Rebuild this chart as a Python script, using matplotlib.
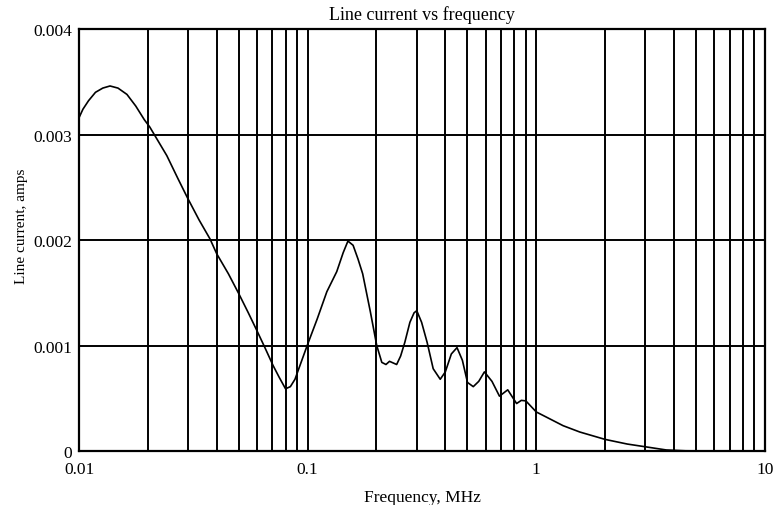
import numpy as np
import matplotlib.pyplot as plt
from matplotlib.ticker import LogLocator, FixedLocator, NullFormatter

plt.rcParams['font.family'] = ['Liberation Serif', 'DejaVu Serif']

# values
freq_mhz = [0.01, 0.0104, 0.011, 0.0118, 0.0127, 0.01366, 0.0148, 0.0162, 0.0177,
            0.0193, 0.0204, 0.0242, 0.0271, 0.0298, 0.0335, 0.0374, 0.040,
            0.045, 0.050, 0.055, 0.060, 0.065, 0.0706, 0.075, 0.080, 0.084,
            0.088, 0.0995, 0.110, 0.1213, 0.134, 0.143, 0.150, 0.158, 0.166,
            0.174, 0.188, 0.2005, 0.211, 0.220, 0.228, 0.245, 0.255, 0.266,
            0.280, 0.292, 0.300, 0.315, 0.333, 0.354, 0.380, 0.400, 0.425,
            0.450, 0.475, 0.50, 0.53, 0.56, 0.593, 0.64, 0.69, 0.75, 0.82,
            0.86, 0.90, 1.0, 1.11, 1.31, 1.55, 2.0, 2.5, 3.0, 3.7, 4.5, 6.0,
            8.0, 10.0]
current_a = [3.16e-3, 3.24e-3, 3.32e-3, 3.40e-3, 3.44e-3, 3.46e-3, 3.44e-3, 3.38e-3,
             3.27e-3, 3.14e-3, 3.07e-3, 2.80e-3, 2.58e-3, 2.40e-3, 2.19e-3,
             2.01e-3, 1.87e-3, 1.68e-3, 1.49e-3, 1.31e-3, 1.14e-3, 0.98e-3,
             0.81e-3, 0.70e-3, 0.59e-3, 0.61e-3, 0.68e-3, 1.00e-3, 1.25e-3,
             1.51e-3, 1.70e-3, 1.88e-3, 1.99e-3, 1.95e-3, 1.82e-3, 1.68e-3,
             1.32e-3, 1.00e-3, 0.84e-3, 0.82e-3, 0.85e-3, 0.82e-3, 0.90e-3,
             1.03e-3, 1.22e-3, 1.31e-3, 1.33e-3, 1.22e-3, 1.03e-3, 0.78e-3,
             0.68e-3, 0.75e-3, 0.92e-3, 0.98e-3, 0.86e-3, 0.65e-3, 0.61e-3,
             0.66e-3, 0.75e-3, 0.66e-3, 0.52e-3, 0.58e-3, 0.45e-3, 0.48e-3,
             0.475e-3, 0.37e-3, 0.32e-3, 0.24e-3, 0.18e-3, 0.11e-3, 0.066e-3,
             0.04e-3, 0.01e-3, 0.002e-3, 0.0, 0.0, 0.0]

y_ticks = [0, 0.001, 0.002, 0.003, 0.004]
y_tick_labels = ['0', '0.001', '0.002', '0.003', '0.004']
x_ticks = [0.01, 0.1, 1, 10]
x_tick_labels = ['0.01', '0.1', '1', '10']

fig = plt.figure(figsize=(7.75, 5.06), dpi=100)
ax = fig.add_axes([0.102, 0.1067, 0.885, 0.834])

ax.plot(freq_mhz, current_a, color='black', linewidth=1.2)

ax.set_xscale('log')
ax.set_xlim(0.01, 10)
ax.set_ylim(0, 0.004)

ax.xaxis.set_major_locator(FixedLocator(x_ticks))
ax.set_xticklabels(x_tick_labels)
ax.xaxis.set_minor_locator(LogLocator(base=10, subs=np.arange(2, 10)))
ax.xaxis.set_minor_formatter(NullFormatter())
ax.set_yticks(y_ticks)
ax.set_yticklabels(y_tick_labels)

ax.grid(True, which='both', axis='x', color='black', linewidth=1.4)
ax.grid(True, which='major', axis='y', color='black', linewidth=1.4)
ax.tick_params(which='both', length=0, labelsize=12.5)
ax.tick_params(axis='y', pad=5)
ax.tick_params(axis='x', pad=7)
for s in ax.spines.values():
    s.set_linewidth(1.6)

ax.set_title('Line current vs frequency', fontsize=13, pad=7)
ax.set_xlabel('Frequency, MHz', fontsize=12.5, labelpad=9)
ax.set_ylabel('Line current, amps', fontsize=11)
ax.yaxis.set_label_coords(-0.075, 0.536)

fig.savefig('out.png', dpi=100)
